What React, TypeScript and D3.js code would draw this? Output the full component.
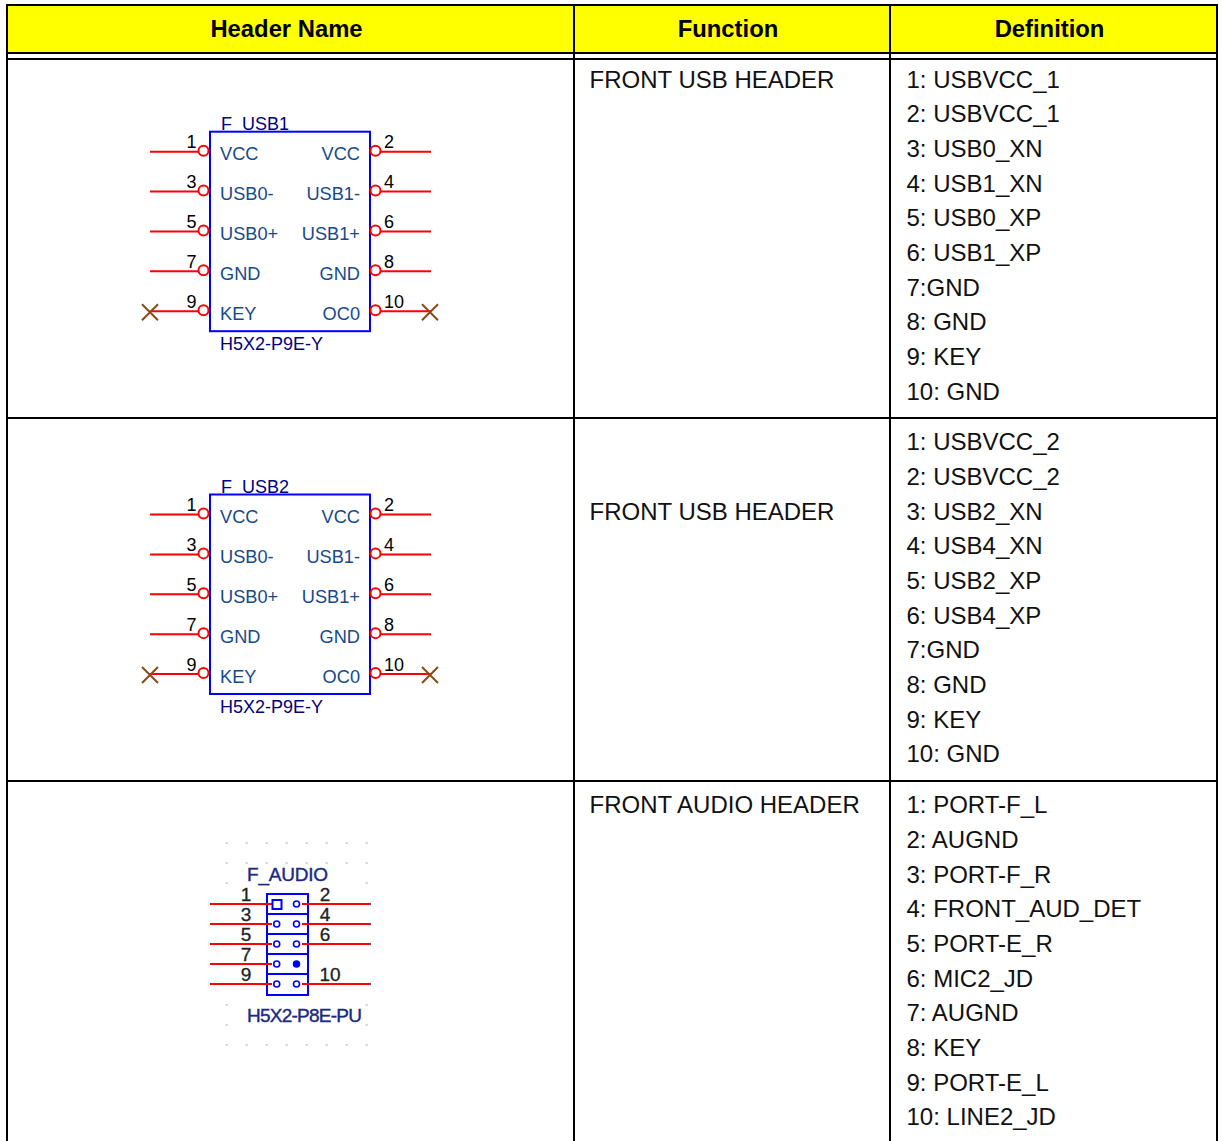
import React from 'react'
import * as d3 from 'd3'

const columns = ['Header Name', 'Function', 'Definition']
const functions = ['FRONT USB HEADER', 'FRONT USB HEADER', 'FRONT AUDIO HEADER']
const usb1Defs = ['1: USBVCC_1', '2: USBVCC_1', '3: USB0_XN', '4: USB1_XN', '5: USB0_XP', '6: USB1_XP', '7:GND', '8: GND', '9: KEY', '10: GND']
const usb2Defs = ['1: USBVCC_2', '2: USBVCC_2', '3: USB2_XN', '4: USB4_XN', '5: USB2_XP', '6: USB4_XP', '7:GND', '8: GND', '9: KEY', '10: GND']
const audioDefs = ['1: PORT-F_L', '2: AUGND', '3: PORT-F_R', '4: FRONT_AUD_DET', '5: PORT-E_R', '6: MIC2_JD', '7: AUGND', '8: KEY', '9: PORT-E_L', '10: LINE2_JD']
const definitions = [usb1Defs, usb2Defs, audioDefs]

const leftPins = ['1', '3', '5', '7', '9']
const rightPins = ['2', '4', '6', '8', '10']
const leftNames = ['VCC', 'USB0-', 'USB0+', 'GND', 'KEY']
const rightNames = ['VCC', 'USB1-', 'USB1+', 'GND', 'OC0']
const audioRightPins = ['2', '4', '6', '', '10']

const WIDTH = 1222
const HEIGHT = 1141
const FONT = '"Liberation Sans", Arial, sans-serif'

const colX = [7, 574, 890, 1217]
const rowY = [59, 418, 781, 1150]
const firstLine = [80, 442.4, 805.4]
const functionLine = [0, 2, 0]
const lineScale = d3.scaleLinear().domain([0, 9]).range([0, 312])

const band = d3.scalePoint<string>().domain(d3.range(5).map(String)).range([0, 159.5])
const audioBand = d3.scalePoint<string>().domain(d3.range(5).map(String)).range([904, 984])
const gridX = d3.range(8).map((i) => 226.7 + i * 20)

const Usb = ({ y0, title }: { y0: number; title: string }) => {
  const y = (i: number) => y0 + (band(String(i)) as number)
  const navy = '#000080'
  const label = '#164a8c'
  return (
    <g fontFamily={FONT}>
      <text x={221} y={y0 - 21.5} fontSize={18} fill={navy}>{title}</text>
      <rect x={210} y={y0 - 20} width={160} height={199.5} fill="#fff" stroke="#0000ff" strokeWidth={2} />
      {leftPins.map((p, i) => (
        <g key={p}>
          <line x1={150} x2={198} y1={y(i)} y2={y(i)} stroke="#f00" strokeWidth={2} />
          <circle cx={203.5} cy={y(i) - 1} r={5} fill="#fff" stroke="#f00" strokeWidth={2} />
          <text x={196.5} y={y(i) - 3.5} textAnchor="end" fontSize={18} fill="#000">{p}</text>
          <text x={220} y={y(i) + 8.5} fontSize={18.2} fill={label}>{leftNames[i]}</text>
        </g>
      ))}
      {rightPins.map((p, i) => (
        <g key={p}>
          <line x1={380} x2={431} y1={y(i)} y2={y(i)} stroke="#f00" strokeWidth={2} />
          <circle cx={375.5} cy={y(i) - 1} r={5} fill="#fff" stroke="#f00" strokeWidth={2} />
          <text x={384} y={y(i) - 3.5} fontSize={18} fill="#000">{p}</text>
          <text x={360} y={y(i) + 8.5} textAnchor="end" fontSize={18.2} fill={label}>{rightNames[i]}</text>
        </g>
      ))}
      {[150, 430].map((x) => (
        <path key={x} d={`M${x - 8},${y(4) - 7}L${x + 8},${y(4) + 9}M${x + 8},${y(4) - 7}L${x - 8},${y(4) + 9}`} stroke="#8b4a14" strokeWidth={2} fill="none" />
      ))}
      <text x={220} y={y0 + 198} fontSize={18} fill={navy}>H5X2-P9E-Y</text>
    </g>
  )
}

const Audio = () => {
  const y = (i: number) => audioBand(String(i)) as number
  const navy = '#1a2a80'
  const dots = [843, 863, 883, 1005, 1025, 1045].flatMap((gy, r) =>
    gridX.filter((_, c) => r === 0 || r === 5 || r === 1 || c === 0 || c === 7).map((gx) => [gx, gy])
  )
  return (
    <g fontFamily={FONT}>
      {dots.map(([gx, gy]) => (
        <rect key={`${gx}-${gy}`} x={gx - 1} y={gy - 1} width={2} height={2} fill="#d0d0d0" />
      ))}
      <text x={247} y={881} fontSize={19} fill={navy} stroke={navy} strokeWidth={0.4} textLength={81} lengthAdjust="spacing">F_AUDIO</text>
      <text x={247} y={1022} fontSize={19} fill={navy} stroke={navy} strokeWidth={0.4} textLength={115} lengthAdjust="spacing">H5X2-P8E-PU</text>
      <rect x={267} y={894} width={41} height={101} fill="#fff" stroke="#0000ff" strokeWidth={2} />
      {d3.range(1, 5).map((i) => (
        <line key={i} x1={267} x2={308} y1={y(i) - 10} y2={y(i) - 10} stroke="#0000ff" strokeWidth={2} />
      ))}
      {leftPins.map((p, i) => (
        <g key={p}>
          <line x1={210} x2={272} y1={y(i)} y2={y(i)} stroke="#f00" strokeWidth={2} />
          {i === 0 ? (
            <rect x={272.5} y={y(i) - 4} width={9} height={9} fill="#fff" stroke="#0000ff" strokeWidth={2} />
          ) : (
            <circle cx={276.7} cy={y(i)} r={3} fill="#fff" stroke="#0000ff" strokeWidth={1.6} />
          )}
          <text x={246} y={y(i) - 3} textAnchor="middle" fontSize={19} fill="#222" stroke="#222" strokeWidth={0.3}>{p}</text>
        </g>
      ))}
      {audioRightPins.map((p, i) => (
        <g key={i}>
          {p !== '' && <line x1={302} x2={370} y1={y(i)} y2={y(i)} stroke="#f00" strokeWidth={2} />}
          {p !== '' && <rect x={369} y={y(i) - 1} width={2} height={2} fill="#704060" />}
          <circle cx={296.5} cy={y(i)} r={3} fill={p === '' ? '#0000ff' : '#fff'} stroke="#0000ff" strokeWidth={1.6} />
          <text x={p === '10' ? 330 : 325} y={y(i) - 3} textAnchor="middle" fontSize={19} fill="#222" stroke="#222" strokeWidth={0.3}>{p}</text>
        </g>
      ))}
    </g>
  )
}

const App = () => {
  return (
    <svg width={WIDTH} height={HEIGHT} style={{ position: 'absolute', left: 0, top: 0 }} fontFamily={FONT}>
      <rect x={colX[0]} y={5} width={colX[3] - colX[0]} height={48} fill="#ff0" />
      {columns.map((c, i) => (
        <text key={c} x={(colX[i] + colX[i + 1]) / 2 - 4} y={37} textAnchor="middle" fontSize={23.8} fontWeight="bold" fill="#000">{c}</text>
      ))}
      {functions.map((f, r) => (
        <text key={r} x={589.5} y={firstLine[r] + lineScale(functionLine[r]) + 8} fontSize={24} fill="#111">{f}</text>
      ))}
      {definitions.map((defs, r) =>
        defs.map((d, i) => (
          <text key={d + r} x={906.5} y={firstLine[r] + lineScale(i) + 7.8} fontSize={24} fill="#111">{d}</text>
        ))
      )}
      <Usb y0={151.7} title="F_USB1" />
      <Usb y0={514.5} title="F_USB2" />
      <Audio />
      <g stroke="#000" strokeWidth={2} fill="none">
        <line x1={6} x2={1218} y1={5} y2={5} />
        <line x1={6} x2={1218} y1={53} y2={53} />
        <line x1={6} x2={1218} y1={59} y2={59} />
        {rowY.slice(1, 3).map((y) => <line key={y} x1={6} x2={1218} y1={y} y2={y} />)}
        {colX.map((x) => <line key={x} x1={x} x2={x} y1={4} y2={HEIGHT} />)}
      </g>
    </svg>
  )
}

export default App
